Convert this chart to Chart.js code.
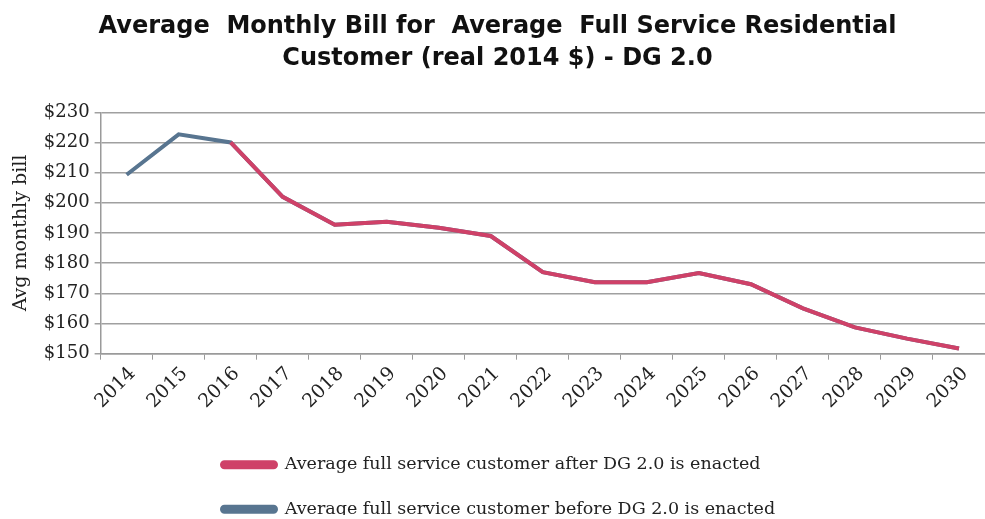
<!DOCTYPE html>
<html>
<head>
<meta charset="utf-8">
<script src="https://cdn.jsdelivr.net/npm/chart.js@4"></script>
<style>
  html, body { margin: 0; padding: 0; background: #fff; }
  #wrap { width: 985px; height: 519px; position: relative; }
</style>
</head>
<body>
<div id="wrap"><canvas id="billChart"></canvas></div>
<script>
// Catégories (années)
const years = ['2014', '2015', '2016', '2017', '2018', '2019', '2020', '2021', '2022',
               '2023', '2024', '2025', '2026', '2027', '2028', '2029', '2030'];

// Facture moyenne après DG 2.0 (la courbe rouge commence en 2016)
const afterDG = [null, null, 220, 202, 192.7, 193.7, 191.7, 189, 177,
                 173.7, 173.7, 176.7, 173, 165, 158.7, 155, 151.7];

// Facture moyenne avant DG 2.0
const beforeDG = [209.3, 222.7, 220, 202, 192.7, 193.7, 191.7, 189, 177,
                  173.7, 173.7, 176.7, 173, 165, 158.7, 155, 151.7];

const yMin = 150;
const yMax = 230;
const yStep = 10;

const serif = "'DejaVu Serif', serif";

// Aligner les deux lignes de la légende à gauche et la descendre un peu
const legendShift = {
    id: 'legendShift',
    beforeDraw(chart) {
        const legend = chart.legend;
        if (legend && !legend._shifted) {
            legend.left = 222 - legend.options.labels.padding;
            legend.top += 13;
            legend._shifted = true;
        }
    },
    afterUpdate(chart) {
        if (chart.legend) chart.legend._shifted = false;
    }
};

document.addEventListener('DOMContentLoaded', function() {
    const ctx = document.getElementById('billChart').getContext('2d');

    new Chart(ctx, {
        type: 'line',
        data: {
            labels: years,
            datasets: [{
                label: 'Average full service customer after DG 2.0 is enacted',
                data: afterDG,
                borderColor: '#cf4168',
                backgroundColor: '#cf4168',
                borderWidth: 4,
                pointRadius: 0,
                tension: 0,
                spanGaps: false
            }, {
                label: 'Average full service customer before DG 2.0 is enacted',
                data: beforeDG,
                borderColor: '#587590',
                backgroundColor: '#587590',
                borderWidth: 4,
                pointRadius: 0,
                tension: 0
            }]
        },
        plugins: [legendShift],
        options: {
            responsive: true,
            maintainAspectRatio: false,
            animation: false,
            layout: {
                padding: { left: 10, right: 0, top: 6, bottom: 4 }
            },
            plugins: {
                title: {
                    display: true,
                    text: ['Average  Monthly Bill for  Average  Full Service Residential',
                           'Customer (real 2014 $) - DG 2.0'],
                    color: '#111',
                    font: { family: "'DejaVu Sans'", size: 24, weight: 'bold', lineHeight: 1.36 },
                    padding: { top: 4, bottom: 37 }
                },
                legend: {
                    position: 'bottom',
                    align: 'start',
                    labels: {
                        color: '#222',
                        boxWidth: 54,
                        boxHeight: 5,
                        useBorderRadius: true,
                        borderRadius: 2.5,
                        padding: 27,
                        font: { family: serif, size: 17.5 }
                    }
                },
                tooltip: { enabled: false }
            },
            scales: {
                x: {
                    offset: true,
                    grid: {
                        display: true,
                        drawOnChartArea: false,
                        drawTicks: true,
                        tickLength: 6,
                        offset: true,
                        color: '#9a9a9a'
                    },
                    border: { color: '#9a9a9a', width: 1.5 },
                    ticks: {
                        color: '#222',
                        minRotation: 45,
                        maxRotation: 45,
                        padding: 3,
                        labelOffset: 6,
                        font: { family: serif, size: 19 }
                    }
                },
                y: {
                    min: yMin,
                    max: yMax,
                    grid: {
                        color: '#a0a0a0',
                        lineWidth: 1.5,
                        tickLength: 6
                    },
                    border: { color: '#9a9a9a', width: 1.5 },
                    ticks: {
                        stepSize: yStep,
                        color: '#222',
                        padding: 5,
                        font: { family: serif, size: 18 },
                        callback: value => '$' + value
                    },
                    title: {
                        display: true,
                        text: 'Avg monthly bill',
                        color: '#222',
                        font: { family: serif, size: 19 },
                        padding: { top: 0, bottom: 6 }
                    }
                }
            }
        }
    });
});
</script>
</body>
</html>
